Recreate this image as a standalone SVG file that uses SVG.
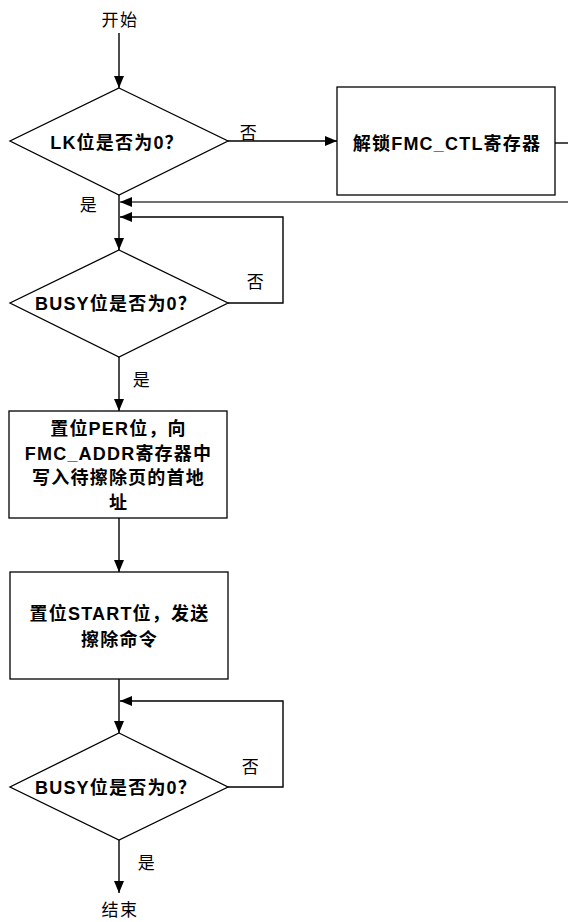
<svg xmlns="http://www.w3.org/2000/svg" width="568" height="922" viewBox="0 0 568 922">
<style>
.shape{fill:#fff;stroke:#000;stroke-width:1.3}
.c{fill:none;stroke:#000;stroke-width:1.4}
.g{fill:none;stroke:#404040;stroke-width:1.3}
.t{font-family:"Liberation Sans","Noto Sans CJK SC",sans-serif;font-size:18px;font-weight:bold;letter-spacing:1.2px;text-anchor:middle;fill:#000}
.l{font-family:"Liberation Sans","Noto Sans CJK SC",sans-serif;font-size:17px;letter-spacing:1.5px;text-anchor:middle;fill:#000}
</style>
<defs>
<marker id="a" markerUnits="userSpaceOnUse" markerWidth="12" markerHeight="10" refX="12" refY="5" orient="auto">
<path d="M0,0 L12,5 L0,10 Z" fill="#000"/>
</marker>
</defs>
<g id="start"><text class="l" x="120" y="26">开始</text></g>
<g id="d1">
<polygon class="shape" points="119,88 228,141 119,195 10,141"/>
<text class="t" x="117" y="149">LK位是否为0？</text>
</g>
<g id="b1">
<rect class="shape" x="337" y="87" width="218" height="108"/>
<text class="t" x="447" y="150">解锁FMC_CTL寄存器</text>
</g>
<g id="d2">
<polygon class="shape" points="119,250 228,303 119,357 10,303"/>
<text class="t" x="116" y="310">BUSY位是否为0？</text>
</g>
<g id="b2">
<rect class="shape" x="9" y="411" width="218" height="107"/>
<text class="t" x="118.5" y="435">置位PER位，向</text>
<text class="t" x="118.5" y="460">FMC_ADDR寄存器中</text>
<text class="t" x="118.5" y="484">写入待擦除页的首地</text>
<text class="t" x="118.5" y="509">址</text>
</g>
<g id="b3">
<rect class="shape" x="10" y="572" width="218" height="107"/>
<text class="t" x="119.5" y="620">置位START位，发送</text>
<text class="t" x="119.5" y="646">擦除命令</text>
</g>
<g id="d3">
<polygon class="shape" points="119,733 228,787 119,840 10,787"/>
<text class="t" x="116" y="794">BUSY位是否为0？</text>
</g>
<g id="end"><text class="l" x="120" y="916">结束</text></g>
<g id="connectors">
<path class="c" d="M119,33 V88" marker-end="url(#a)"/>
<path class="c" d="M228,141 H337" marker-end="url(#a)"/>
<path class="c" d="M555,143 H568"/>
<path class="g" d="M568,202 H120" marker-end="url(#a)"/>
<path class="c" d="M119,195 V250" marker-end="url(#a)"/>
<path class="c" d="M228,303 H283 V217 H120" marker-end="url(#a)"/>
<path class="c" d="M119,357 V411" marker-end="url(#a)"/>
<path class="c" d="M119,518 V572" marker-end="url(#a)"/>
<path class="c" d="M119,679 V733" marker-end="url(#a)"/>
<path class="c" d="M228,787 H283 V701 H120" marker-end="url(#a)"/>
<path class="c" d="M119,840 V893" marker-end="url(#a)"/>
<text class="l" x="249" y="139">否</text>
<text class="l" x="89" y="211">是</text>
<text class="l" x="256" y="288">否</text>
<text class="l" x="142" y="386">是</text>
<text class="l" x="251" y="773">否</text>
<text class="l" x="147" y="869">是</text>
</g>
</svg>
